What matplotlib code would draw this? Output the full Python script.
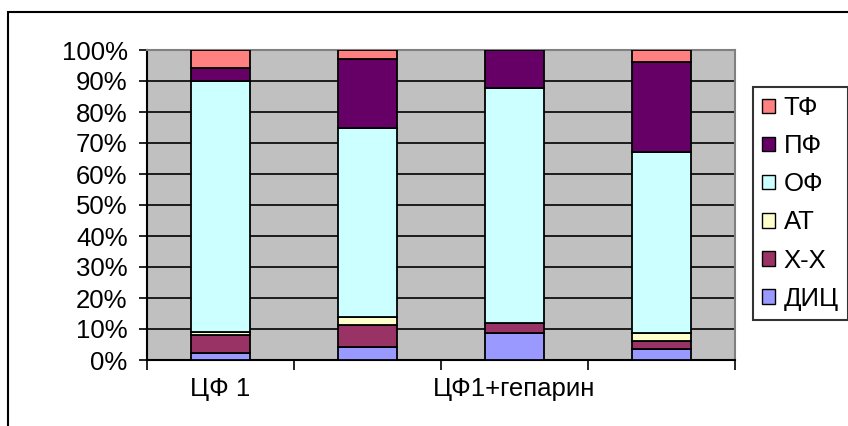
import numpy as np
import matplotlib
matplotlib.use('Agg')
import matplotlib.pyplot as plt
from matplotlib.patches import Patch, Rectangle
from matplotlib.ticker import FixedLocator, PercentFormatter

# categories (every second label is not shown in the original)
categories = ['ЦФ 1', '', 'ЦФ1+гепарин', '']

# stacked shares, bottom to top, in percent
series_names = ['ДИЦ', 'Х-Х', 'АТ', 'ОФ', 'ПФ', 'ТФ']
dic = [2.3, 4.1, 8.6, 3.4]
hh = [5.7, 7.1, 3.2, 2.7]
at = [1.0, 2.7, 0.0, 2.7]
of = [81.1, 60.8, 75.8, 58.4]
pf = [4.0, 22.5, 12.4, 28.9]
tf = [5.9, 2.8, 0.0, 3.9]

colors = ['#9999FF', '#993366', '#FFFFCC', '#CCFFFF', '#660066', '#FF8080']

plt.rcParams['font.family'] = ['Liberation Sans', 'DejaVu Sans']
fs = 18.5

fig = plt.figure(figsize=(8.48, 4.26), dpi=100)
ax = fig.add_axes([147 / 848, 1 - 360 / 426, 588 / 848, 310 / 426])
ax.set_facecolor('#C0C0C0')

# black horizontal gridlines under the bars
ax.set_axisbelow(True)
ax.yaxis.grid(True, color='black', linewidth=1.2)

x = np.arange(len(categories))
bottom = np.zeros(len(categories))
for name, vals, col in zip(series_names, [dic, hh, at, of, pf, tf], colors):
    vals = np.array(vals)
    ax.bar(x, vals, width=0.4, bottom=bottom, color=col,
           edgecolor='black', linewidth=1.3, label=name, zorder=3)
    bottom += vals

ax.set_xlim(-0.5, len(categories) - 0.5)
ax.set_ylim(0, 100)
ax.set_yticks(np.arange(0, 101, 10))
ax.yaxis.set_major_formatter(PercentFormatter(decimals=0))
ax.tick_params(axis='y', length=6, width=1.2, labelsize=fs, pad=8, direction='out')

# category labels at bar centres, tick marks between categories
ax.set_xticks(x)
ax.set_xticklabels(categories)
ax.tick_params(axis='x', which='major', length=0, labelsize=fs, pad=12)
ax.xaxis.set_minor_locator(FixedLocator(np.arange(-0.5, len(categories), 1)))
ax.tick_params(axis='x', which='minor', length=7, width=1.2, direction='out')

for side in ['left', 'bottom']:
    ax.spines[side].set_color('black')
    ax.spines[side].set_linewidth(1.5)
for side in ['top', 'right']:
    ax.spines[side].set_color('#808080')
    ax.spines[side].set_linewidth(1.5)

# legend, top entry first
handles = [Patch(facecolor=c, edgecolor='black', linewidth=1) for c in colors][::-1]
leg = fig.legend(handles, series_names[::-1], loc='upper left',
                 bbox_to_anchor=(753 / 848, 1 - 87 / 426), fontsize=fs,
                 frameon=True, fancybox=False, edgecolor='black',
                 handlelength=0.5, handleheight=0.5, handletextpad=0.35,
                 labelspacing=0.55, borderpad=0.35, borderaxespad=0)
leg.get_frame().set_linewidth(1.5)

# outer chart border
fig.patches.append(Rectangle((8 / 848, -0.05), 1.1, 1.05 - 12 / 426,
                             transform=fig.transFigure, fill=False,
                             edgecolor='black', linewidth=1.5))

fig.savefig('out.png', dpi=100)
plt.close(fig)
